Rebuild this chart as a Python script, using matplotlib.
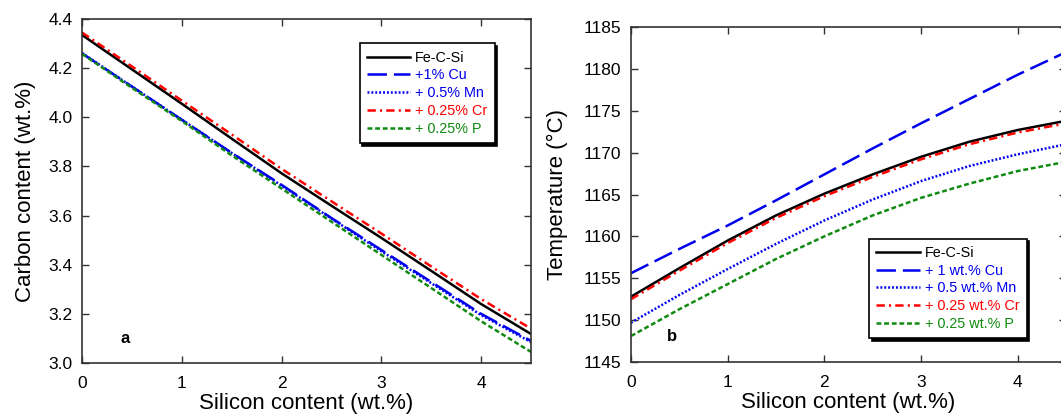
import matplotlib
matplotlib.use("Agg")
import matplotlib.pyplot as plt

plt.rcParams['font.family'] = ['Liberation Sans', 'DejaVu Sans']
plt.rcParams['lines.scale_dashes'] = False

# silicon content (wt.%)
si = [0, 0.5, 1, 1.5, 2, 2.5, 3, 3.5, 4, 4.5]

# panel a: carbon content at eutectic (wt.%)
c_base = [4.335, 4.195, 4.055, 3.913, 3.772, 3.640, 3.509, 3.375, 3.240, 3.118]
c_cu = [4.260, 4.125, 3.990, 3.855, 3.725, 3.590, 3.460, 3.330, 3.200, 3.090]
c_mn = [4.262, 4.125, 3.990, 3.855, 3.722, 3.588, 3.455, 3.325, 3.195, 3.085]
c_cr = [4.345, 4.207, 4.068, 3.930, 3.790, 3.658, 3.527, 3.393, 3.260, 3.140]
c_p = [4.258, 4.120, 3.985, 3.845, 3.710, 3.575, 3.440, 3.305, 3.170, 3.045]

# panel b: eutectic temperature (C)
t_base = [1152.8, 1156.2, 1159.5, 1162.5, 1165.1, 1167.4, 1169.5, 1171.3, 1172.7, 1173.8]
t_cu = [1155.6, 1158.5, 1161.3, 1164.3, 1167.4, 1170.5, 1173.5, 1176.4, 1179.3, 1182.0]
t_mn = [1149.7, 1153.0, 1156.1, 1159.1, 1161.9, 1164.4, 1166.6, 1168.4, 1169.8, 1171.0]
t_cr = [1152.5, 1155.9, 1159.2, 1162.2, 1164.8, 1167.1, 1169.2, 1171.0, 1172.4, 1173.5]
t_p = [1148.1, 1151.3, 1154.3, 1157.3, 1160.0, 1162.5, 1164.6, 1166.3, 1167.8, 1168.9]

labels_a = ['Fe-C-Si', '+1% Cu', '+ 0.5% Mn', '+ 0.25% Cr', '+ 0.25% P']
labels_b = ['Fe-C-Si', '+ 1 wt.% Cu', '+ 0.5 wt.% Mn', '+ 0.25 wt.% Cr', '+ 0.25 wt.% P']

styles = [
  dict(color='black', ls='-', lw=1.8),
  dict(color='#0000ee', ls=(0, (14, 5)), lw=1.8),
  dict(color='#0000ee', ls=(0, (1.4, 1.4)), lw=1.8),
  dict(color='#ff0000', ls=(0, (6, 3, 1.5, 3)), lw=1.8),
  dict(color='#108a10', ls=(0, (3.5, 2)), lw=1.8),
]

fig = plt.figure(figsize=(10.61, 4.15), dpi=100)
ax1 = fig.add_axes([0.0773, 0.1253, 0.4232, 0.8289])
ax2 = fig.add_axes([0.5947, 0.1277, 0.4100, 0.8072])


def style_axes(ax):
  ax.tick_params(direction='in', top=True, right=True, length=5, width=1,
                 labelsize=12.5, pad=7, color='#333333')
  ax.tick_params(axis='x', pad=9)
  for s in ax.spines.values():
    s.set_linewidth(1.2)
    s.set_color('#333333')
  ax.set_xlabel('Silicon content (wt.%)', fontsize=16, labelpad=2)


def add_legend(ax, anchor):
  leg = ax.legend(loc='upper left', bbox_to_anchor=anchor, fontsize=10.4,
                  fancybox=False, edgecolor='black', framealpha=1,
                  shadow={'color': 'black', 'alpha': 1}, handlelength=3.0,
                  labelspacing=0.26, borderpad=0.5, handletextpad=0.35,
                  labelcolor='linecolor')
  leg.get_frame().set_linewidth(1.2)


for y, lab, st in zip([c_base, c_cu, c_mn, c_cr, c_p], labels_a, styles):
  ax1.plot(si, y, label=lab, **st)
ax1.set_xlim(0, 4.5)
ax1.set_ylim(3.0, 4.4)
ax1.set_xticks([0, 1, 2, 3, 4])
ax1.set_yticks([3.0, 3.2, 3.4, 3.6, 3.8, 4.0, 4.2, 4.4])
ax1.set_yticklabels(['3.0', '3.2', '3.4', '3.6', '3.8', '4.0', '4.2', '4.4'])
ax1.set_ylabel('Carbon content (wt.%)', fontsize=16, labelpad=9)
style_axes(ax1)
add_legend(ax1, (0.602, 0.95))
ax1.text(0.43, 3.10, 'a', fontsize=12, fontweight='bold', ha='center', va='center')

for y, lab, st in zip([t_base, t_cu, t_mn, t_cr, t_p], labels_b, styles):
  ax2.plot(si, y, label=lab, **st)
ax2.set_xlim(0, 4.5)
ax2.set_ylim(1145, 1185)
ax2.set_xticks([0, 1, 2, 3, 4])
ax2.set_yticks([1145, 1150, 1155, 1160, 1165, 1170, 1175, 1180, 1185])
ax2.set_ylabel('Temperature (°C)', fontsize=16, labelpad=11)
style_axes(ax2)
add_legend(ax2, (0.531, 0.39))
ax2.text(0.42, 1148.0, 'b', fontsize=12, fontweight='bold', ha='center', va='center')

fig.savefig('out.png', dpi=100)
